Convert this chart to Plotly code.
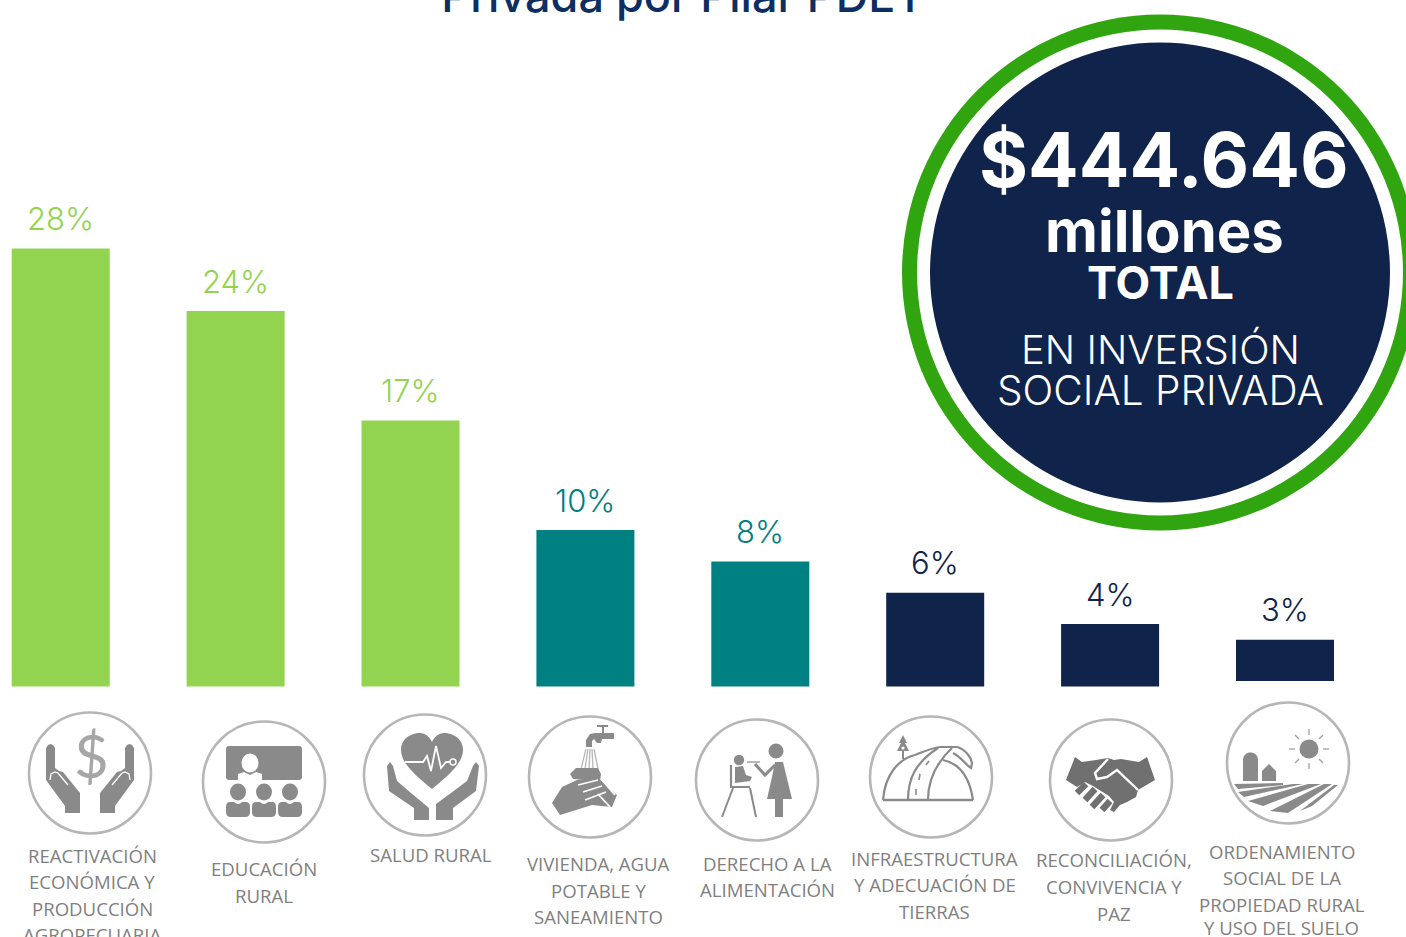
import re
import plotly.graph_objects as go

# ---------- data ----------
pillars = ["Reactivación económica y producción agropecuaria", "Educación rural", "Salud rural",
           "Vivienda, agua potable y saneamiento", "Derecho a la alimentación",
           "Infraestructura y adecuación de tierras", "Reconciliación, convivencia y paz",
           "Ordenamiento social de la propiedad rural y uso del suelo"]
shares = [28, 24, 17, 10, 8, 6, 4, 3]
share_labels = ["28%", "24%", "17%", "10%", "8%", "6%", "4%", "3%"]
GREEN, TEAL, NAVY = "#92D350", "#008080", "#10234B"
bar_colors = [GREEN, GREEN, GREEN, TEAL, TEAL, NAVY, NAVY, NAVY]
title_text = "Privada por Pilar PDET"

label_lines = [
    (92, [("REACTIVACIÓN", 855.6), ("ECONÓMICA Y", 881.6), ("PRODUCCIÓN", 908.6), ("AGROPECUARIA", 934.6)]),
    (264, [("EDUCACIÓN", 868.6), ("RURAL", 895.6)]),
    (430.5, [("SALUD RURAL", 854.6)]),
    (598.5, [("VIVIENDA, AGUA", 863.6), ("POTABLE Y", 890.6), ("SANEAMIENTO", 916.6)]),
    (767, [("DERECHO A LA", 863.6), ("ALIMENTACIÓN", 889.6)]),
    (934.5, [("INFRAESTRUCTURA", 858.6), ("Y ADECUACIÓN DE", 884.6), ("TIERRAS", 911.6)]),
    (1114, [("RECONCILIACIÓN,", 859.6), ("CONVIVENCIA Y", 886.6), ("PAZ", 913.6)]),
    (1281.5, [("ORDENAMIENTO", 851.6), ("SOCIAL DE LA", 877.6), ("PROPIEDAD RURAL", 904.6), ("Y USO DEL SUELO", 927.6)]),
]
icon_centres = [(90, 773), (264, 782), (425, 775), (590, 777), (757, 780), (931, 777), (1111, 780), (1288, 763)]

W, H = 1406, 937
STEP = 174.9
X0 = 60.7
Y_BASE = 686.6
PX_PER_PCT = 15.65
GREY = "#8A8A8A"
DARK = "#707070"
RING = "#B6B6B6"

shapes, annotations = [], []


def px(x, y, text, size, color, family="Open Sans", weight=None, **kw):
    font = dict(size=size, color=color, family=family)
    if weight:
        font["weight"] = weight
    annotations.append(dict(x=x, y=y, xref="x2", yref="y2", text=text, showarrow=False,
                            font=font, xanchor="center", yanchor="middle", **kw))


def shift(path, cx, cy):
    out, i = [], 0
    for tok in re.findall(r"[MLCQZ]|-?\d+\.?\d*", path):
        if tok in "MLCQZ":
            out.append(tok)
        else:
            out.append(str(float(tok) + (cx if i % 2 == 0 else cy)))
            i += 1
    return " ".join(out)


def path(c, d, fill=GREY, line=None, lw=0):
    shapes.append(dict(type="path", xref="x2", yref="y2", path=shift(d, *c),
                       fillcolor=fill if fill else "rgba(0,0,0,0)",
                       line=dict(color=line if line else "rgba(0,0,0,0)", width=lw), layer="above"))


def poly(c, pts, fill=GREY):
    path(c, "M " + " L ".join(f"{x} {y}" for x, y in pts) + " Z", fill)


def stroke(c, pts, color=GREY, lw=2):
    path(c, "M " + " L ".join(f"{x} {y}" for x, y in pts), None, color, lw)


def oval(c, dx, dy, rx, ry, fill=GREY, line=None, lw=0):
    shapes.append(dict(type="circle", xref="x2", yref="y2", x0=c[0] + dx - rx, x1=c[0] + dx + rx,
                       y0=c[1] + dy - ry, y1=c[1] + dy + ry, fillcolor=fill,
                       line=dict(color=line if line else "rgba(0,0,0,0)", width=lw), layer="above"))


def rrect(c, x0, y0, x1, y1, r, fill=GREY):
    path(c, f"M {x0+r} {y0} L {x1-r} {y0} Q {x1} {y0} {x1} {y0+r} L {x1} {y1-r} Q {x1} {y1} {x1-r} {y1} "
            f"L {x0+r} {y1} Q {x0} {y1} {x0} {y1-r} L {x0} {y0+r} Q {x0} {y0} {x0+r} {y0} Z", fill)


# rings round the icons
for c in icon_centres:
    oval(c, 0, 0, 61, 60.5, "white", RING, 2.6)

# icon 1: hands and dollar
c = icon_centres[0]
for s in (-1, 1):
    poly(c, [(s * 44, -25), (s * 42, -28), (s * 39.5, -29), (s * 37, -28), (s * 35, -25), (s * 35, -5),
             (s * 31, -2), (s * 27, -1), (s * 10, 20), (s * 10, 40), (s * 25, 40), (s * 25, 33), (s * 44, 7)])
    stroke(c, [(s * 40, 7), (s * 39, 1), (s * 35, -1), (s * 32, 0), (s * 22, 12)], "white", 1.3)
px(c[0] + 1, c[1] - 18, "$", 60, "#A6A6A6", "Lato")

# icon 2: classroom
c = icon_centres[1]
rrect(c, -38, -36, 38, -2, 3)
oval(c, -14, -19, 8.5, 9.5, "white")
poly(c, [(-26, -1), (-26, -8), (-20, -10), (-14, -7), (-8, -10), (-2, -8), (-2, -1)], "white")
for dx in (-26, 0, 26):
    oval(c, dx, 10, 8, 8.5)
    path(c, f"M {dx-12} 25 Q {dx-12} 20 {dx-8} 20 L {dx-4} 20 Q {dx} 24 {dx+4} 20 L {dx+8} 20 "
            f"Q {dx+12} 20 {dx+12} 25 L {dx+12} 30 Q {dx+12} 35 {dx+7} 35 L {dx-7} 35 Q {dx-12} 35 {dx-12} 30 Z")

# icon 3: heart in hands
c = icon_centres[2]
path(c, "M 7 14 C -10 0 -24 -12 -24 -25 C -24 -37 -13 -42 -5 -42 C 0 -42 5 -38 7 -33 "
        "C 9 -38 14 -42 19 -42 C 27 -42 38 -37 38 -25 C 38 -12 24 0 7 14 Z")
stroke(c, [(-20, -13), (-2, -13), (2, -19), (6, -4), (11, -29), (16, -7), (21, -13), (27, -13)], "white", 1.8)
oval(c, 28, -13, 3, 3, GREY, "white", 1.5)
poly(c, [(-38, -9), (-35, -13), (-32, -9), (-28, 6), (-14, 18), (4, 33), (4, 45), (-11, 45), (-11, 33), (-36, 16)])
poly(c, [(54, -9), (51, -13), (48, -9), (42, 6), (26, 18), (11, 29), (11, 45), (28, 45), (28, 33), (51, 16)])

# icon 4: washing hands
c = icon_centres[3]
poly(c, [(-4, -30), (-4, -37), (0, -43), (5, -44), (24, -44), (24, -38), (12, -38), (11, -34), (7, -34),
         (4, -38), (2, -36), (2, -30)])
stroke(c, [(13, -44), (13, -50)], GREY, 2)
stroke(c, [(7, -51), (18, -51)], GREY, 2)
for x0, x1 in [(-4, -9), (-2, -5), (0, -1), (2, 3), (4, 8)]:
    path(c, f"M {x0} -28 L {x1} -8", None, "#B8B8B8", 1.3)
poly(c, [(-17, 2), (-20, -3), (-14, -9), (8, -9), (11, -3), (10, 4)])
poly(c, [(-38, 26), (-28, 10), (-13, 3), (7, 0), (27, 18), (22, 30), (2, 28), (-30, 38)])
for pts in [[(-12, 8), (8, 3)], [(-7, 15), (12, 9)], [(-5, 23), (16, 15)], [(12, 3), (25, 18)], [(8, 17), (20, 30)]]:
    stroke(c, pts, "white", 1.8)

# icon 5: mother feeding child
c = icon_centres[4]
oval(c, 19, -29, 7.5, 7.5)
poly(c, [(18, -18), (26, -18), (35, 19), (26, 19), (26, 37), (18, 37), (18, 19), (10, 19), (15, -3)])
stroke(c, [(18, -15), (8, -5), (-2, -16)], GREY, 3)
stroke(c, [(-10, -18), (3, -18)], GREY, 1.2)
oval(c, -18, -20, 5.2, 5.2)
poly(c, [(-22, -13), (-14, -14), (-11, -5), (-5, -3), (-7, 1), (-22, 3)])
stroke(c, [(-26, -15), (-26, 7), (-7, 7)], GREY, 2.2)
stroke(c, [(-24, 8), (-35, 37)], GREY, 2)
stroke(c, [(-7, 8), (-1, 37)], GREY, 2)

# icon 6: road over dome
c = icon_centres[5]
LC = "#8A8A8A"
path(c, "M -48 23 C -46 -3 -32 -18 -16 -22 C -8 -25 0 -29 9 -30 L 26 -30 C 34 -28 40 -20 41 -14 L 40 -9 "
        "C 34 -13 30 -20 22 -24", None, LC, 2.2)
path(c, "M 12 -17 C 26 -14 38 -4 42 23", None, LC, 2.2)
stroke(c, [(-48, 23), (42, 23)], LC, 2.4)
path(c, "M -23 23 C -23 2 -16 -14 7 -29", None, LC, 2.2)
path(c, "M -3 23 C -3 2 5 -14 21 -29", None, LC, 2.2)
for a, b in [((-15, 18), (-15, 12)), ((-12, 3), (-11, -3)), ((-5, -12), (-2, -16))]:
    stroke(c, [a, b], LC, 1.6)
poly(c, [(-28, -42), (-24, -34), (-26, -34), (-22, -26), (-27, -26), (-27, -18), (-29, -18), (-29, -26),
         (-34, -26), (-30, -34), (-32, -34)], LC)
oval(c, -28, -29, 1.6, 1.6, "white")

# icon 7: handshake
c = icon_centres[6]
poly(c, [(-36, -23), (-29, -18), (-15, -20), (-3, -22), (3, -20), (10, -21), (28, -18), (36, -23), (44, 0), (27, 10),
         (25, 17), (16, 22), (9, 25), (3, 32), (-1, 30), (3, 22), (-2, 16), (-10, 11), (-18, 6), (-26, 2), (-34, 7),
         (-45, 0)], DARK)
for a, b in [((-25, 4), (-34, 13)), ((-16, 9), (-26, 20)), ((-8, 15), (-19, 27)), ((-1, 21), (-9, 30))]:
    stroke(c, [a, b], DARK, 6.5)
stroke(c, [(-3, -21), (-16, -7), (-14, -1), (-4, -3), (6, -10), (27, 10)], "white", 2.4)

# icon 8: farmland
c = icon_centres[7]
oval(c, 21, -14, 9.5, 9.5)
for a, b, d, e in [(21, -28, 21, -34), (21, 0, 21, 6), (7, -14, 1, -14), (35, -14, 41, -14),
                   (11, -24, 7, -28), (31, -24, 35, -28), (11, -4, 7, 0), (31, -4, 35, 0)]:
    stroke(c, [(a, b), (d, e)], "#A0A0A0", 1.3)
path(c, "M -45 18 L -45 -3 C -45 -13 -30 -13 -30 -3 L -30 18 Z")
poly(c, [(-26, 18), (-26, 8), (-19, 1), (-12, 8), (-12, 18)])
poly(c, [(-54, 21), (-5, 20), (-5, 22), (-50, 26)])
poly(c, [(-50, 29), (5, 21), (15, 21), (-44, 34)])
poly(c, [(-40, 38), (20, 21), (33, 21), (-25, 43)])
poly(c, [(-18, 48), (36, 21), (44, 21), (0, 50)])
poly(c, [(12, 48), (46, 22), (50, 22), (24, 43)])

# pillar labels
for x, lines in label_lines:
    for text, y in lines:
        px(x, y, text, 18.6, "#7F7F7F")

# big badge
for r, fill in [(258, "#31A50F"), (243, "white"), (230, NAVY)]:
    shapes.append(dict(type="circle", xref="x2", yref="y2", x0=1160 - r, x1=1160 + r,
                       y0=272.5 - r, y1=272.5 + r, fillcolor=fill, line=dict(width=0), layer="above"))
px(1164, 159, "$444.646", 75, "white", "Inter", 700)
px(1164, 231, "millones", 58, "white", "Inter", 700)
px(1160, 282, "TOTAL", 45, "white", "Inter", 700)
px(1160, 349, "EN INVERSIÓN", 40, "white", "Inter", 300)
px(1160, 390, "SOCIAL PRIVADA", 40.5, "white", "Inter", 300)

# white gap under the last bar
shapes.append(dict(type="rect", xref="x2", yref="y2", x0=1230, x1=1340, y0=681, y1=690,
                   fillcolor="white", line=dict(width=0), layer="above"))

# percentage labels sit on the bars, through the data axes
for i, (v, t, col) in enumerate(zip(shares, share_labels, bar_colors)):
    annotations.append(dict(x=i, y=v, xref="x", yref="y", text=t, showarrow=False, yanchor="bottom",
                            yshift=9.5, font=dict(family="Inter", size=31, color=col, weight=300)))

fig = go.Figure()
fig.add_trace(go.Bar(x=list(range(len(pillars))), y=shares, customdata=pillars, width=98 / STEP,
                     marker=dict(color=bar_colors, line=dict(width=0)), cliponaxis=False,
                     hovertemplate="%{customdata}: %{y}%<extra></extra>"))
# hidden pixel-scale axes carry the badge, icons and labels
fig.add_trace(go.Scatter(x=[0], y=[0], xaxis="x2", yaxis="y2", mode="markers",
                         marker=dict(opacity=0), hoverinfo="skip", showlegend=False))
fig.update_layout(
    width=W, height=H, margin=dict(l=0, r=0, t=0, b=0), autosize=False, showlegend=False,
    paper_bgcolor="white", plot_bgcolor="white",
    title=dict(text=title_text, x=683 / W, xanchor="center", y=1 - 12 / H, yanchor="bottom",
               font=dict(family="Inter", size=45, color="#0C2E63", weight=500)),
    xaxis=dict(range=[-X0 / STEP, (W - X0) / STEP], visible=False, fixedrange=True),
    yaxis=dict(range=[-(H - Y_BASE) / PX_PER_PCT, Y_BASE / PX_PER_PCT], visible=False, fixedrange=True),
    xaxis2=dict(range=[0, W], overlaying="x", visible=False, fixedrange=True),
    yaxis2=dict(range=[H, 0], overlaying="y", visible=False, fixedrange=True),
    shapes=shapes, annotations=annotations,
)
fig.write_html("out.html", config=dict(displayModeBar=False),
               post_script="document.body.style.margin='0';document.body.style.overflow='hidden';")
